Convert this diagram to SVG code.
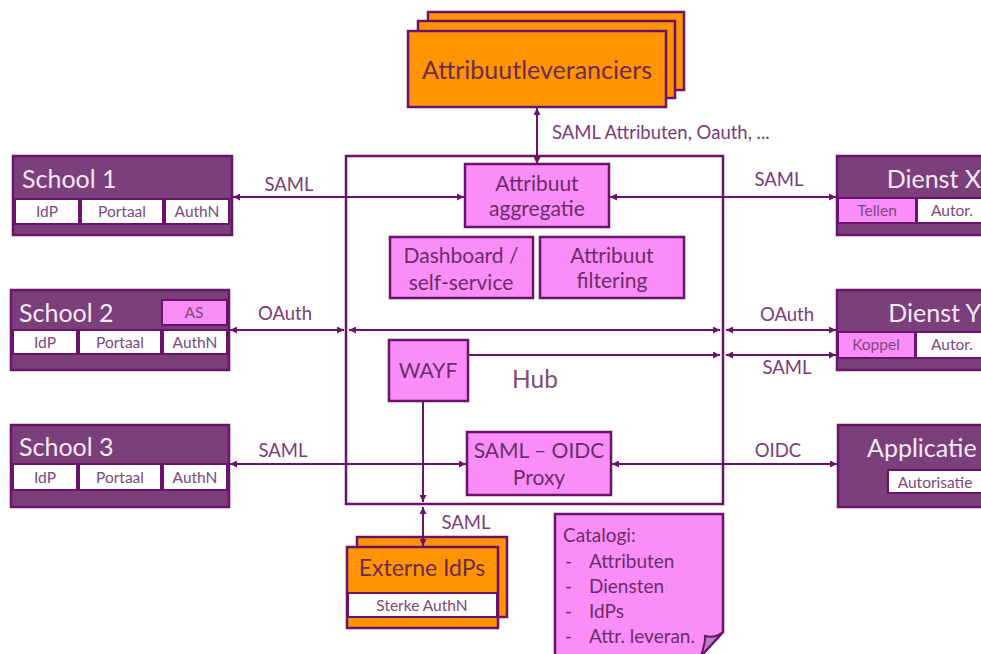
<svg xmlns="http://www.w3.org/2000/svg" width="981" height="654" viewBox="0 0 981 654">
<style>
text{font-family:Lato,"Open Sans","Liberation Sans",sans-serif}
.band{fill:#7b3f7b;stroke:#6a136a;stroke-width:2.5}
.cell{fill:#ffffff;stroke:#6a136a;stroke-width:2}
.pcell{fill:#fb8df9;stroke:#6a136a;stroke-width:2}
.pink{fill:#fb8df9;stroke:#6a136a;stroke-width:2.5}
.orange{fill:#ff9400;stroke:#6a136a;stroke-width:2.5}
.hub{fill:#ffffff;stroke:#6a136a;stroke-width:2.5}
.title{fill:#f5e9f5;font-size:25px}
.ctext{fill:#7a4a7a;font-size:15.5px;text-anchor:middle}
.ptext{fill:#6a2d6a;font-size:21px;text-anchor:middle}
.lbl{fill:#7a3a7a;font-size:18.5px;text-anchor:middle}
.conn{stroke:#6a136a;stroke-width:2;fill:none}
.cat{fill:#6a2d6a;font-size:19px}
</style>
<defs>
<marker id="ah" viewBox="0 0 8 8" refX="8" refY="4" markerWidth="7" markerHeight="7" markerUnits="userSpaceOnUse" orient="auto-start-reverse">
<path d="M0,0 L8,4 L0,8 z" fill="#6a136a"/>
</marker>
</defs>

<g id="hub">
<rect class="hub" x="346" y="156" width="377" height="348"/>
<text x="535" y="388" font-size="24.5" fill="#7b4f7b" text-anchor="middle">Hub</text>
</g>

<g id="attribuutleveranciers">
<rect class="orange" x="428" y="12" width="256" height="78"/>
<rect class="orange" x="418" y="21" width="257" height="77"/>
<rect class="orange" x="408" y="31" width="258" height="76"/>
<text x="537" y="79" font-size="25" fill="#6b2d50" text-anchor="middle">Attribuutleveranciers</text>
</g>

<g id="school1">
<rect class="band" x="13" y="156" width="219" height="79"/>
<text class="title" x="22" y="188">School 1</text>
<rect class="cell" x="15" y="199" width="64" height="25"/>
<rect class="cell" x="81" y="199" width="82" height="25"/>
<rect class="cell" x="165" y="199" width="64" height="25"/>
<text class="ctext" x="47" y="217">IdP</text>
<text class="ctext" x="122" y="217">Portaal</text>
<text class="ctext" x="197" y="217">AuthN</text>
</g>

<g id="school2">
<rect class="band" x="11" y="290" width="218" height="80"/>
<text class="title" x="19" y="322">School 2</text>
<rect class="pcell" x="162" y="300" width="65" height="25"/>
<text class="ctext" x="194" y="318">AS</text>
<rect class="cell" x="13" y="330" width="64" height="24"/>
<rect class="cell" x="79" y="330" width="82" height="24"/>
<rect class="cell" x="163" y="330" width="64" height="24"/>
<text class="ctext" x="45" y="348">IdP</text>
<text class="ctext" x="120" y="348">Portaal</text>
<text class="ctext" x="195" y="348">AuthN</text>
</g>

<g id="school3">
<rect class="band" x="11" y="425" width="218" height="82"/>
<text class="title" x="19" y="456">School 3</text>
<rect class="cell" x="13" y="464" width="64" height="26"/>
<rect class="cell" x="79" y="464" width="82" height="26"/>
<rect class="cell" x="163" y="464" width="64" height="26"/>
<text class="ctext" x="45" y="483">IdP</text>
<text class="ctext" x="120" y="483">Portaal</text>
<text class="ctext" x="195" y="483">AuthN</text>
</g>

<g id="dienstx">
<rect class="band" x="837" y="156" width="150" height="79"/>
<text class="title" x="981" y="188" text-anchor="end">Dienst X</text>
<rect class="pcell" x="838" y="198" width="78" height="25"/>
<rect class="cell" x="917" y="198" width="70" height="25"/>
<text class="ctext" x="877" y="216">Tellen</text>
<text class="ctext" x="952" y="216">Autor.</text>
</g>

<g id="diensty">
<rect class="band" x="837" y="290" width="150" height="80"/>
<text class="title" x="981" y="322" text-anchor="end">Dienst Y</text>
<rect class="pcell" x="838" y="332" width="77" height="26"/>
<rect class="cell" x="916" y="332" width="71" height="26"/>
<text class="ctext" x="876" y="350">Koppel</text>
<text class="ctext" x="952" y="350">Autor.</text>
</g>

<g id="applicatie">
<rect class="band" x="838" y="425" width="150" height="82"/>
<text class="title" x="867" y="457">Applicatie</text>
<rect class="cell" x="888" y="470" width="100" height="23"/>
<text class="ctext" x="935" y="488" font-size="17">Autorisatie</text>
</g>

<g id="aggregatie">
<rect class="pink" x="465" y="164" width="144" height="63"/>
<text class="ptext" x="537" y="191">Attribuut</text>
<text class="ptext" x="537" y="216">aggregatie</text>
</g>

<g id="dashboard">
<rect class="pink" x="390" y="237" width="143" height="61"/>
<text class="ptext" x="461" y="263">Dashboard /</text>
<text class="ptext" x="461" y="290">self-service</text>
</g>

<g id="filtering">
<rect class="pink" x="540" y="237" width="144" height="61"/>
<text class="ptext" x="612" y="263">Attribuut</text>
<text class="ptext" x="612" y="288">filtering</text>
</g>

<g id="wayf">
<rect class="pink" x="389" y="340" width="79" height="61"/>
<text class="ptext" x="428" y="378" font-size="19">WAYF</text>
</g>

<g id="proxy">
<rect class="pink" x="467" y="432" width="144" height="63"/>
<text class="ptext" x="539" y="458">SAML – OIDC</text>
<text class="ptext" x="539" y="485">Proxy</text>
</g>

<g id="externe">
<rect class="orange" x="357" y="537" width="150" height="80"/>
<rect class="orange" x="347" y="547" width="151" height="81"/>
<rect class="cell" x="348" y="593" width="149" height="24"/>
<text x="422" y="576" font-size="23" fill="#6b2d50" text-anchor="middle">Externe IdPs</text>
<text class="ctext" x="422" y="611" font-size="16">Sterke AuthN</text>
</g>

<g id="catalogi">
<path d="M555,514 L723,514 L723,632 L701,656 L555,656 Z" fill="#fb8df9" stroke="#6a136a" stroke-width="2.5"/>
<path d="M701,656 C704,646 706,640 705,636 C712,638 718,636 723,632 Z" fill="#c27bc7" stroke="#6a136a" stroke-width="2"/>
<text class="cat" x="563" y="542">Catalogi:</text>
<text class="cat" x="565" y="568">-</text><text class="cat" x="589" y="568">Attributen</text>
<text class="cat" x="565" y="593">-</text><text class="cat" x="589" y="593">Diensten</text>
<text class="cat" x="565" y="618">-</text><text class="cat" x="589" y="618">IdPs</text>
<text class="cat" x="565" y="643">-</text><text class="cat" x="589" y="643">Attr. leveran.</text>
</g>

<g id="connectors">
<line class="conn" x1="537" y1="164" x2="537" y2="108" marker-start="url(#ah)" marker-end="url(#ah)"/>
<line class="conn" x1="464" y1="197" x2="233" y2="197" marker-start="url(#ah)" marker-end="url(#ah)"/>
<line class="conn" x1="610" y1="197" x2="836" y2="197" marker-start="url(#ah)" marker-end="url(#ah)"/>
<line class="conn" x1="230" y1="330" x2="344" y2="330" marker-start="url(#ah)" marker-end="url(#ah)"/>
<line class="conn" x1="349" y1="330" x2="720" y2="330" marker-start="url(#ah)" marker-end="url(#ah)"/>
<line class="conn" x1="726" y1="330" x2="836" y2="330" marker-start="url(#ah)" marker-end="url(#ah)"/>
<line class="conn" x1="468" y1="355" x2="720" y2="355" marker-end="url(#ah)"/>
<line class="conn" x1="726" y1="355" x2="836" y2="355" marker-start="url(#ah)" marker-end="url(#ah)"/>
<line class="conn" x1="423" y1="401" x2="423" y2="502" marker-end="url(#ah)"/>
<line class="conn" x1="423" y1="507" x2="423" y2="546" marker-start="url(#ah)" marker-end="url(#ah)"/>
<line class="conn" x1="466" y1="464" x2="230" y2="464" marker-start="url(#ah)" marker-end="url(#ah)"/>
<line class="conn" x1="612" y1="464" x2="837" y2="464" marker-start="url(#ah)" marker-end="url(#ah)"/>
<text class="lbl" x="289" y="191">SAML</text>
<text class="lbl" x="779" y="186">SAML</text>
<text class="lbl" x="285" y="320">OAuth</text>
<text class="lbl" x="787" y="321">OAuth</text>
<text class="lbl" x="787" y="374">SAML</text>
<text class="lbl" x="283" y="457">SAML</text>
<text class="lbl" x="778" y="457">OIDC</text>
<text class="lbl" x="466" y="529">SAML</text>
<text x="552" y="139" font-size="18.5" fill="#7a3a7a">SAML Attributen, Oauth, ...</text>
</g>
</svg>
